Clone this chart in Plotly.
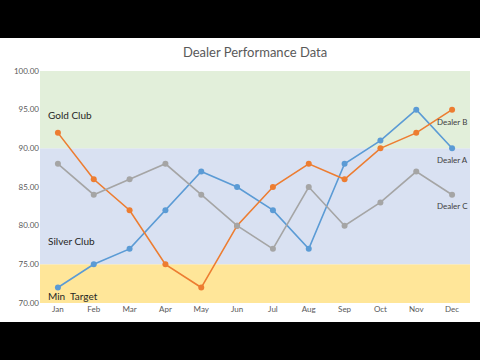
import plotly.graph_objects as go

months = ["Jan", "Feb", "Mar", "Apr", "May", "Jun", "Jul", "Aug", "Sep", "Oct", "Nov", "Dec"]
dealer_a = [72, 75, 77, 82, 87, 85, 82, 77, 88, 91, 95, 90]
dealer_b = [92, 86, 82, 75, 72, 80, 85, 88, 86, 90, 92, 95]
dealer_c = [88, 84, 86, 88, 84, 80, 77, 85, 80, 83, 87, 84]
band_names = ["Min\u00a0 Target", "Silver Club", "Gold Club"]
band_low = [70, 75, 90]
band_high = [75, 90, 100]
band_label_y = [70.9, 78.0, 94.3]
band_colors = ["#FFE699", "#D9E1F2", "#E2EFDA"]

FONT = "Lato, 'Open Sans', sans-serif"

fig = go.Figure()
series = [("Dealer A", dealer_a, "#5B9BD5", 88.5),
          ("Dealer B", dealer_b, "#ED7D31", 93.4),
          ("Dealer C", dealer_c, "#A5A5A5", 82.5)]
for name, vals, col, ly in series:
    fig.add_trace(go.Scatter(x=months, y=vals, mode="lines+markers", name=name,
                             line=dict(color=col, width=1.6),
                             marker=dict(color=col, size=6)))
    fig.add_annotation(x="Dec", y=ly, text=name, showarrow=False,
                       font=dict(family=FONT, size=8, color="#404040"))

shapes = [dict(type="rect", xref="paper", yref="paper", x0=-0.1, x1=1.03, y0=-0.082, y1=1.142,
               fillcolor="white", line=dict(width=0), layer="below")]
for lo, hi, col, nm, yl in zip(band_low, band_high, band_colors, band_names, band_label_y):
    shapes.append(dict(type="rect", xref="paper", yref="y", x0=0, x1=1, y0=lo, y1=hi,
                       fillcolor=col, line=dict(width=0), layer="below"))
    fig.add_annotation(xref="paper", x=0.013, y=yl, text=nm, showarrow=False,
                       xanchor="left", font=dict(family=FONT, size=10, color="#262626"))

fig.update_layout(
    width=480, height=360,
    paper_bgcolor="black", plot_bgcolor="white",
    margin=dict(l=40, r=10, t=71, b=57),
    shapes=shapes,
    showlegend=False,
    title=dict(text="Dealer Performance Data", x=0.5, xref="paper", y=1 - 52/360, yanchor="middle",
               font=dict(family=FONT, size=13, color="#595959")),
    xaxis=dict(type="category", range=[-0.5, 11.5], showgrid=False, zeroline=False, showline=False,
               ticks="", tickfont=dict(family=FONT, size=8, color="#595959")),
    yaxis=dict(range=[70, 100], dtick=5, tickformat=".2f", showgrid=False, zeroline=False,
               showline=False, ticks="", tickfont=dict(family=FONT, size=8, color="#595959")),
)
fig.write_html("out.html", config={"displayModeBar": False},
               post_script="document.body.style.margin='0';document.body.style.overflow='hidden';")
